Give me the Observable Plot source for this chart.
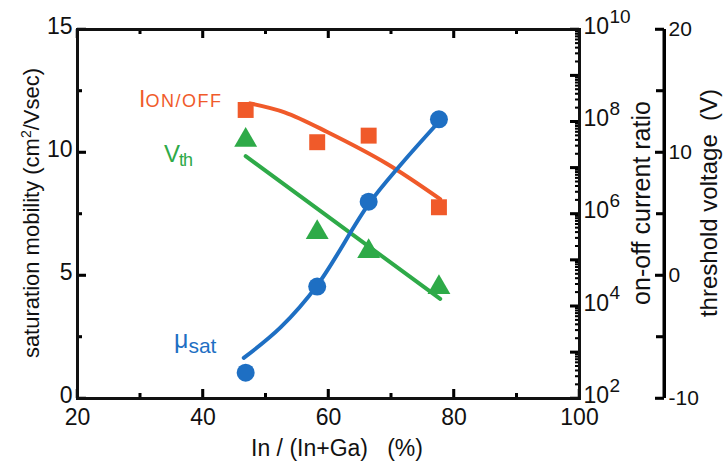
<!DOCTYPE html>
<html><head><meta charset="utf-8">
<script src="https://cdn.jsdelivr.net/npm/d3@7"></script>
<script src="https://cdn.jsdelivr.net/npm/@observablehq/plot@0.6"></script>
<style>
html,body{margin:0;padding:0;background:#fff;}
#chart{position:relative;width:726px;height:462px;font-family:"Liberation Sans",Arial,sans-serif;color:#111;}
#chart > svg{position:absolute;left:0;top:0;font-family:"Liberation Sans",Arial,sans-serif;}
.lbl{position:absolute;white-space:pre;line-height:1;}
.rot{position:absolute;white-space:pre;line-height:1;transform:translate(-50%,-50%) rotate(-90deg);}
</style></head><body><div id="chart"></div>
<script>
// ---- data ----
const composition = [46.8, 58.2, 66.4, 77.6];          // In/(In+Ga) %
const mobility    = [1.05, 4.55, 8.0, 11.35];          // cm2/Vsec
const onOffRatio  = [1.8e8, 3.6e7, 5.0e7, 1.4e6];      // on-off current ratio
const thresholdV  = [11.0, 3.5, 1.95, -0.97];          // V

// fitted guide curves
const mobilityFitX  = [46.5, 52.4, 58.2, 66.4, 71.5, 77.6];
const mobilityFitY  = [1.65, 2.9, 4.6, 7.9, 9.5, 11.25];
const onOffFitX     = [47.5, 53.0, 59.8, 69.3, 77.8];
const onOffFitY     = [2.5e8, 1.6e8, 6.0e7, 1.23e7, 2.1e6];
const thresholdFitX = [46.8, 77.8];
const thresholdFitY = [9.7, -1.9];

// ticks
const xTicks = [20, 40, 60, 80, 100];
const xMinorTicks = [30, 50, 70, 90];
const mobilityTicks = [0, 5, 10, 15];
const mobilityMinorTicks = [2.5, 7.5, 12.5];
const ratioLabelTicks = [1e2, 1e4, 1e6, 1e8, 1e10];
const ratioExponents = ["2", "4", "6", "8", "10"];
const vthTicks = [-10, 0, 10, 20];
const vthMinorTicks = [-5, 5, 15];

const RED = "#f05a2a", GREEN = "#2eaa48", BLUE = "#1e6fc3", INK = "#111", TICK = "black";
const W = 726, H = 462;
const M = {marginLeft: 77, marginRight: 147, marginTop: 29, marginBottom: 64};
const PW = W - M.marginLeft - M.marginRight;   // frame width (px)
const PH = H - M.marginTop - M.marginBottom;   // frame height (px)
const OUTER = 85;                              // offset of the outer (voltage) axis, px

// secondary axes share the primary (mobility) y scale through d3 scales
const mobilityDomain = [0, 15];
const ratioToY = d3.scaleLog([1e2, 1e10], mobilityDomain);
const vthToY = d3.scaleLinear([-10, 20], mobilityDomain);

const ratioScaleTicks = d3.scaleLog().domain([1e2, 1e10]).ticks();
const ratioDecades = ratioScaleTicks.filter(t => Math.abs(Math.log10(t) - Math.round(Math.log10(t))) < 1e-9);
const ratioMinor = ratioScaleTicks.filter(t => !ratioDecades.includes(t));

const pts = (xs, ys, f = v => v) => xs.map((x, i) => ({x, y: f(ys[i])}));

// inward tick marks, drawn both as tick lines and as thin filled rects
function hTicks(ys, side, len, th, dx = 0) {
  const ins = side === "left" ? {insetRight: PW - len} : {insetLeft: PW - len};
  return [
    Plot.tickY(ys, {y: d => d, stroke: TICK, strokeWidth: th, dx, ...ins}),
    Plot.rect(ys, {y1: d => d, y2: d => d, fill: TICK, insetTop: -th / 2, insetBottom: -th / 2, dx, ...ins})
  ];
}
function vTicks(xs, side, len, th) {
  const ins = side === "bottom" ? {insetTop: PH - len} : {insetBottom: PH - len};
  return [
    Plot.tickX(xs, {x: d => d, stroke: TICK, strokeWidth: th, ...ins}),
    Plot.rect(xs, {x1: d => d, x2: d => d, fill: TICK, insetLeft: -th / 2, insetRight: -th / 2, ...ins})
  ];
}

const plot = Plot.plot({
  width: W, height: H, ...M,
  x: {domain: [20, 100], axis: null}, y: {domain: mobilityDomain, axis: null},
  marks: [
    // bottom / top
    Plot.axisX({anchor: "bottom", ticks: xTicks, tickSize: 0, tickPadding: 10, fontSize: 23, label: null, fill: INK}),
    vTicks(xTicks, "bottom", 9, 2.5), vTicks(xMinorTicks, "bottom", 5, 2.5),
    vTicks(xTicks, "top", 9, 2.5), vTicks(xMinorTicks, "top", 5, 2.5),
    // left (mobility)
    Plot.axisY({anchor: "left", ticks: mobilityTicks, tickSize: 0, tickPadding: 5, dy: -3, fontSize: 23, label: null, fill: INK}),
    hTicks(mobilityTicks, "left", 9, 2.5), hTicks(mobilityMinorTicks, "left", 5, 2.5),
    // inner right (on-off ratio, log)
    hTicks(ratioDecades.map(ratioToY), "right", 9, 2.5),
    hTicks(ratioMinor.map(ratioToY), "right", 4, 1.5),
    Plot.text(ratioLabelTicks, {y: d => ratioToY(d), text: () => "10", frameAnchor: "right", textAnchor: "start", dx: 4, dy: -3, fontSize: 23, fill: INK}),
    Plot.text(ratioLabelTicks, {y: d => ratioToY(d), text: (d, i) => ratioExponents[i], frameAnchor: "right", textAnchor: "start", dx: 30, dy: -13, fontSize: 19, fill: INK}),
    // outer right (threshold voltage)
    Plot.ruleX([100], {dx: OUTER, stroke: TICK, strokeWidth: 3}),
    Plot.rect([100], {x1: d => d, x2: d => d, dx: OUTER, insetLeft: -1.5, insetRight: -1.5, fill: TICK}),
    hTicks(vthTicks.map(vthToY), "right", 9, 2.5, OUTER),
    hTicks(vthMinorTicks.map(vthToY), "right", 8, 2.5, OUTER),
    Plot.text(vthTicks, {y: d => vthToY(d), text: d => String(d), frameAnchor: "right", textAnchor: "start", dx: OUTER + 4, fontSize: 21, fill: INK}),
    Plot.frame({stroke: INK, strokeWidth: 3}),
    // threshold voltage
    Plot.line(pts(thresholdFitX, thresholdFitY, vthToY), {x: "x", y: "y", stroke: GREEN, strokeWidth: 4, strokeLinecap: "round"}),
    Plot.dot(pts(composition, thresholdV, vthToY), {x: "x", y: "y", symbol: "triangle", r: 8.5, fill: GREEN}),
    // on-off ratio
    Plot.line(pts(onOffFitX, onOffFitY, ratioToY), {x: "x", y: "y", curve: "catmull-rom", stroke: RED, strokeWidth: 4, strokeLinecap: "round"}),
    Plot.dot(pts(composition, onOffRatio, ratioToY), {x: "x", y: "y", symbol: "square", r: 9, fill: RED}),
    // mobility
    Plot.line(pts(mobilityFitX, mobilityFitY), {x: "x", y: "y", curve: "catmull-rom", stroke: BLUE, strokeWidth: 4, strokeLinecap: "round"}),
    Plot.dot(pts(composition, mobility), {x: "x", y: "y", r: 9, fill: BLUE})
  ]
});

const chart = document.getElementById("chart");
chart.append(plot);

// ---- titles and series labels ----
function addDiv(cls, html, css) {
  const d = document.createElement("div");
  d.className = cls; d.innerHTML = html; Object.assign(d.style, css);
  chart.appendChild(d);
}
addDiv("rot", "saturation mobility (cm<sup style=\"font-size:14px;vertical-align:8px;line-height:0\">2</sup>/Vsec)", {left: "32px", top: "213px", fontSize: "22px"});
addDiv("rot", "on-off current ratio", {left: "641px", top: "203px", fontSize: "25px"});
addDiv("rot", "threshold voltage  (V)", {left: "709px", top: "203px", fontSize: "24px"});
addDiv("lbl", "In / (In+Ga)   (%)", {left: "337px", top: "437px", fontSize: "23px", transform: "translateX(-50%)"});

addDiv("lbl", "I<span style=\"font-size:18px;letter-spacing:1.5px\">ON/OFF</span>", {left: "139px", top: "88px", fontSize: "23px", color: RED});
addDiv("lbl", "V<span style=\"font-size:18px;position:relative;top:4px\">th</span>", {left: "164px", top: "142px", fontSize: "24px", color: GREEN, letterSpacing: "-1px"});
addDiv("lbl", "\u03bc<span style=\"font-size:21px;position:relative;top:5px\">sat</span>", {left: "174px", top: "327px", fontSize: "25px", color: BLUE});
</script></body></html>
